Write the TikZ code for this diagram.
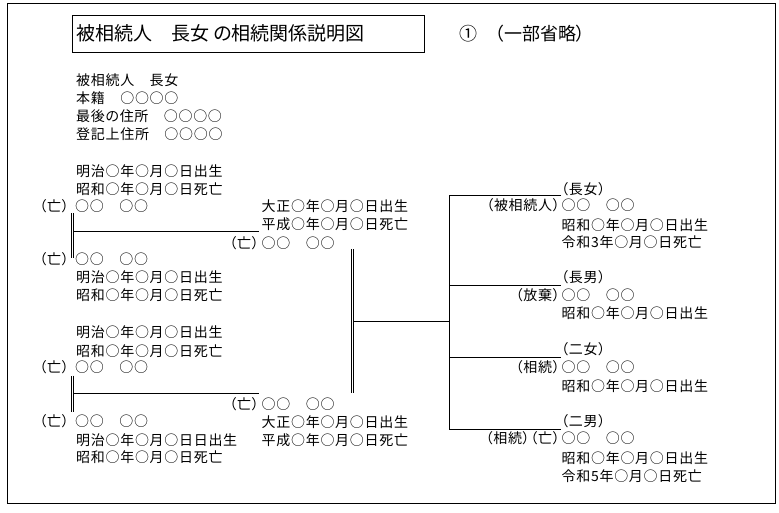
\documentclass[tikz,border=0pt]{standalone}
\usepackage{fontspec}
\setmainfont[RawFeature=+palt]{Noto Sans CJK JP}
\newfontfamily\bodyjp[RawFeature=+palt, LetterSpace=5]{Noto Sans CJK JP}
\begin{document}
\begin{tikzpicture}[x=1pt,y=-1pt,
  txt/.style={inner sep=0pt, font=\bodyjp\fontsize{14}{18}\selectfont, text height=12.3pt, text depth=1.7pt, anchor=west},
  pre/.style={txt, anchor=east},
  big/.style={inner sep=0pt, font=\fontsize{19}{23}\selectfont, text height=16.7pt, text depth=2.3pt, anchor=west},
  ln/.style={line width=0.9pt},
  dbl/.style={line width=0.8pt, double distance=1.4pt},
]
\useasboundingbox (0,0) rectangle (779,512);
\fill[white] (0,0) rectangle (779,512);
% outer frame
\draw[ln] (7,3) rectangle (775,503);
% title
\node (titlebox) [draw, ln, minimum width=352pt, minimum height=37pt, anchor=north west, inner sep=0pt] at (72,15) {};
\node (title) [big] at (76,33.5) {被相続人　長女 の相続関係説明図};
\node (note) [big, font=\fontsize{18}{22}\selectfont] at (459,33.5) {①　（一部省略）};
% info
\node (i1) [txt] at (76,80) {被相続人　長女};
\node (i2) [txt] at (76,98) {本籍　○○○○};
\node (i3) [txt] at (76,116) {最後の住所　○○○○};
\node (i4) [txt] at (76,134) {登記上住所　○○○○};
% paternal grandparents
\node (ga1) [txt] at (76,171) {明治○年○月○日出生};
\node (ga2) [txt] at (76,189) {昭和○年○月○日死亡};
\node (ga) [txt] at (75,206) {○○　○○};
\node (gap) [pre] at (69,206) {（亡）};
\node (gb) [txt] at (75,259) {○○　○○};
\node (gbp) [pre] at (69,259) {（亡）};
\node (gb1) [txt] at (76,277) {明治○年○月○日出生};
\node (gb2) [txt] at (76,295) {昭和○年○月○日死亡};
% father
\node (fa1) [txt] at (261.5,206) {大正○年○月○日出生};
\node (fa2) [txt] at (261.5,224) {平成○年○月○日死亡};
\node (fa) [txt] at (261.5,243) {○○　○○};
\node (fap) [pre] at (259,243) {（亡）};
% maternal grandparents
\node (gc1) [txt] at (76,332) {明治○年○月○日出生};
\node (gc2) [txt] at (76,351) {昭和○年○月○日死亡};
\node (gc) [txt] at (75,367) {○○　○○};
\node (gcp) [pre] at (69,367) {（亡）};
\node (gd) [txt] at (75,421) {○○　○○};
\node (gdp) [pre] at (69,421) {（亡）};
\node (gd1) [txt] at (76,440) {明治○年○月○日日出生};
\node (gd2) [txt] at (76,457) {昭和○年○月○日死亡};
% mother
\node (mo) [txt] at (261.5,404) {○○　○○};
\node (mop) [pre] at (259,404) {（亡）};
\node (mo1) [txt] at (261.5,422) {大正○年○月○日出生};
\node (mo2) [txt] at (261.5,440) {平成○年○月○日死亡};
% children
\node (c1h) [txt] at (561,189) {（長女）};
\node (c1) [txt] at (561.5,205) {○○　○○};
\node (c1p) [pre] at (560,205) {（被相続人）};
\node (c1a) [txt] at (561.5,225) {昭和○年○月○日出生};
\node (c1b) [txt] at (561.5,242) {令和3年○月○日死亡};
\node (c2h) [txt] at (561,277) {（長男）};
\node (c2) [txt] at (561.5,295) {○○　○○};
\node (c2p) [pre] at (560,295) {（放棄）};
\node (c2a) [txt] at (561.5,313) {昭和○年○月○日出生};
\node (c3h) [txt] at (561,349) {（二女）};
\node (c3) [txt] at (561.5,367) {○○　○○};
\node (c3p) [pre] at (560,367) {（相続）};
\node (c3a) [txt] at (561.5,386) {昭和○年○月○日出生};
\node (c4h) [txt] at (561,421) {（二男）};
\node (c4) [txt] at (561.5,438) {○○　○○};
\node (c4p) [pre] at (560,438) {（相続）（亡）};
\node (c4a) [txt] at (561.5,458) {昭和○年○月○日出生};
\node (c4b) [txt] at (561.5,476) {令和5年○月○日死亡};
% marriage lines and branches
\coordinate (m1t) at (72.2,213);
\coordinate (m1b) at (72.2,258);
\coordinate (m1c) at (73.8,231);
\coordinate (m1e) at (259,231);
\draw[dbl] (m1t) -- (m1b);
\draw[ln] (m1c) -- (m1e);
\coordinate (m2t) at (72.2,375.5);
\coordinate (m2b) at (72.2,411.5);
\coordinate (m2c) at (73.8,393.3);
\coordinate (m2e) at (259,393.3);
\draw[dbl] (m2t) -- (m2b);
\draw[ln] (m2c) -- (m2e);
\coordinate (m3t) at (352.5,249);
\coordinate (m3b) at (352.5,393.3);
\coordinate (m3c) at (354,321);
\coordinate (m3e) at (449.3,321);
\draw[dbl] (m3t) -- (m3b);
\draw[ln] (m3c) -- (m3e);
% children bracket
\coordinate (k1) at (449.3,195);
\coordinate (k2) at (449.3,285);
\coordinate (k3) at (449.3,357);
\coordinate (k4) at (449.3,429);
\draw[ln] (c1h.west |- k1) -- (k1) -- (k4) -- (c4h.west |- k4);
\draw[ln] (k2) -- (c2h.west |- k2);
\draw[ln] (k3) -- (c3h.west |- k3);
\end{tikzpicture}
\end{document}
